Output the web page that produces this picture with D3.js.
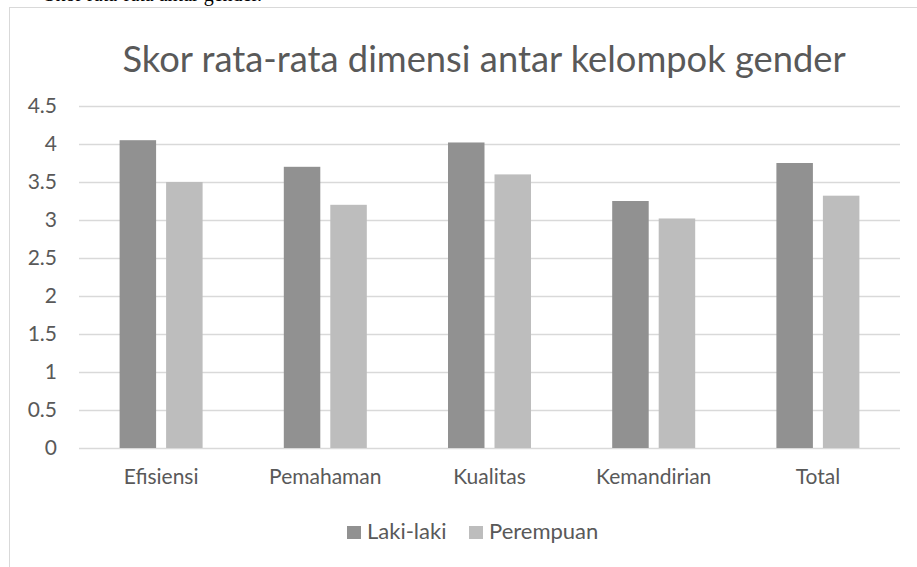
<!DOCTYPE html>
<html>
<head>
<meta charset="utf-8">
<script src="https://cdn.jsdelivr.net/npm/d3@7"></script>
<style>
  body { margin: 0; background: #fff; }
  text { font-family: Lato, "Open Sans", sans-serif; fill: #595959; }
</style>
</head>
<body>
<div id="wrapper"></div>
<script>
  // data
  const categories = ["Efisiensi", "Pemahaman", "Kualitas", "Kemandirian", "Total"]
  const seriesNames = ["Laki-laki", "Perempuan"]
  const lakiValues = [4.05, 3.7, 4.02, 3.25, 3.75]
  const perempuanValues = [3.5, 3.2, 3.6, 3.02, 3.32]
  const yTicks = [0, 0.5, 1, 1.5, 2, 2.5, 3, 3.5, 4, 4.5]
  const seriesColors = ["#919191", "#bdbdbd"]

  const dataset = categories.map((c, i) => ({
    category: c,
    values: [lakiValues[i], perempuanValues[i]],
  }))

  const dimensions = {
    width: 917,
    height: 567,
    margin: { top: 106, right: 17, bottom: 119, left: 79 },
  }
  dimensions.boundedWidth = dimensions.width - dimensions.margin.left - dimensions.margin.right
  dimensions.boundedHeight = 448 - dimensions.margin.top

  const wrapper = d3.select("#wrapper")
    .append("svg")
      .attr("width", dimensions.width)
      .attr("height", dimensions.height)

  // text of the page above, cut off by the crop
  wrapper.append("text")
      .attr("x", 262)
      .attr("y", 1)
      .attr("text-anchor", "end")
      .style("font-family", "'Liberation Serif', serif")
      .style("font-size", "20px")
      .style("fill", "#000")
      .text("Skor rata-rata antar gender.")

  // chart area border
  wrapper.append("rect")
      .attr("x", 9.5)
      .attr("y", 7.5)
      .attr("width", 960)
      .attr("height", 600)
      .attr("fill", "#fff")
      .attr("stroke", "#d9d9d9")

  wrapper.append("text")
      .attr("x", 484)
      .attr("y", 72)
      .attr("text-anchor", "middle")
      .style("font-size", "36.3px")
      .text("Skor rata-rata dimensi antar kelompok gender")

  const bounds = wrapper.append("g")
    .attr("transform", `translate(${dimensions.margin.left}, ${dimensions.margin.top})`)

  // scales
  const yScale = d3.scaleLinear()
    .domain([0, 4.5])
    .range([dimensions.boundedHeight, 0])

  const x0 = d3.scaleBand()
    .domain(categories)
    .range([0, dimensions.boundedWidth])

  const x1 = d3.scaleBand()
    .domain(seriesNames)
    .range([0, x0.bandwidth()])
    .paddingInner(0.215)
    .paddingOuter(0.873)

  // gridlines
  bounds.selectAll(".grid")
    .data(yTicks)
    .enter().append("line")
      .attr("x1", 0)
      .attr("x2", dimensions.boundedWidth)
      .attr("y1", d => Math.round(yScale(d)) + 0.5)
      .attr("y2", d => Math.round(yScale(d)) + 0.5)
      .attr("stroke", "#d9d9d9")
      .attr("stroke-width", 1.5)

  // bars
  const groups = bounds.selectAll(".group")
    .data(dataset)
    .enter().append("g")
      .attr("transform", d => `translate(${x0(d.category)}, 0)`)

  groups.selectAll("rect")
    .data(d => d.values.map((v, i) => ({ series: seriesNames[i], value: v, i })))
    .enter().append("rect")
      .attr("x", d => x1(d.series))
      .attr("y", d => yScale(d.value))
      .attr("width", x1.bandwidth())
      .attr("height", d => yScale(0) - yScale(d.value))
      .attr("fill", d => seriesColors[d.i])

  // y axis labels
  const yAxis = bounds.append("g")
    .call(d3.axisLeft(yScale).tickValues(yTicks).tickSize(0).tickPadding(22).tickFormat(d3.format("")))
  yAxis.select(".domain").remove()
  yAxis.selectAll("text")
      .style("font-size", "21px")
      .style("fill", "#595959")
      .style("font-family", "Lato, sans-serif")

  // x axis labels
  const xAxis = bounds.append("g")
    .attr("transform", `translate(0, ${dimensions.boundedHeight})`)
    .call(d3.axisBottom(x0).tickSize(0).tickPadding(21))
  xAxis.select(".domain").remove()
  xAxis.selectAll("text")
      .style("font-size", "21px")
      .style("fill", "#595959")
      .style("font-family", "Lato, sans-serif")

  // legend
  const legendItems = [
    { name: seriesNames[0], x: 347 },
    { name: seriesNames[1], x: 469 },
  ]
  const legend = wrapper.selectAll(".legend")
    .data(legendItems)
    .enter().append("g")
      .attr("transform", d => `translate(${d.x}, 526)`)
  legend.append("rect")
      .attr("width", 14)
      .attr("height", 13)
      .attr("fill", (d, i) => seriesColors[i])
  legend.append("text")
      .attr("x", 20)
      .attr("y", 13)
      .style("font-size", "22px")
      .text(d => d.name)
</script>
</body>
</html>
